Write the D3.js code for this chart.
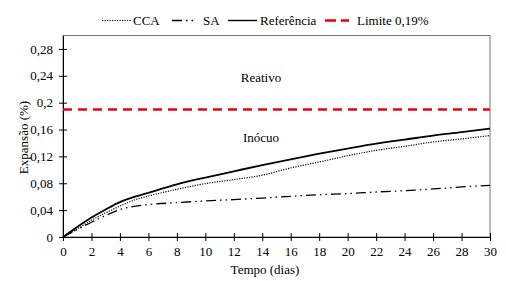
<!DOCTYPE html>
<html><head><meta charset="utf-8">
<script src="https://cdn.jsdelivr.net/npm/d3@7"></script>
<style>body{margin:0;background:#fff}svg{display:block}</style>
</head><body><svg id="c" width="506" height="281"></svg>
<script>
const days = [0,1,2,3,4,5,6,8,10,12,14,16,18,20,22,24,26,28,30];
const cca = [0,0.012,0.025,0.036,0.046,0.055,0.061,0.071,0.0795,0.0855,0.092,0.1028,0.1117,0.121,0.129,0.135,0.1415,0.146,0.151];
const sa  = [0,0.011,0.022,0.032,0.0408,0.0457,0.0483,0.0512,0.0536,0.0557,0.058,0.0606,0.063,0.0646,0.067,0.069,0.0715,0.0745,0.077];
const ref = [0,0.015,0.029,0.041,0.052,0.0598,0.0658,0.0785,0.0885,0.0978,0.107,0.1157,0.124,0.1317,0.139,0.145,0.151,0.156,0.1615];
const limite = 0.19;
const xTicks = d3.range(0,31,2);
const yTicks = [0,0.04,0.08,0.12,0.16,0.2,0.24,0.28];
const yTickLabels = ["0","0,04","0,08","0,12","0,16","0,2","0,24","0,28"];

const FONT = "Liberation Serif";
const svg = d3.select("#c");
const m = {l:63, r:490, t:36, b:237};
const x = d3.scaleLinear().domain([0,30]).range([m.l,m.r]);
const y = d3.scaleLinear().domain([0,0.3]).range([m.b,m.t-0.5]);

svg.append("rect").attr("x",m.l).attr("y",y(0.3)).attr("width",m.r-m.l).attr("height",m.b-y(0.3))
  .attr("fill","none").attr("stroke","#777").attr("stroke-width",1);

const xa = svg.append("g").attr("transform",`translate(0,${m.b})`)
  .call(d3.axisBottom(x).tickValues(xTicks).tickSizeInner(4).tickSizeOuter(0).tickPadding(6));
xa.selectAll(".tick line").attr("y1",-4);
const ya = svg.append("g").attr("transform",`translate(${m.l},0)`)
  .call(d3.axisLeft(y).tickValues(yTicks).tickFormat((d,i)=>yTickLabels[i]).tickSizeInner(4).tickSizeOuter(0).tickPadding(6));
ya.selectAll(".tick line").attr("x1",4);
[xa,ya].forEach(a=>{a.attr("font-family",FONT).attr("font-size",13);
  a.selectAll("text").attr("fill","#000");
  a.select(".domain").attr("stroke","#000"); a.selectAll(".tick line").attr("stroke","#000");});

const T = (tx,ty,s,anchor)=>svg.append("text").attr("x",tx).attr("y",ty).attr("text-anchor",anchor||"middle")
  .attr("font-family",FONT).attr("font-size",13).attr("fill","#000").text(s);
T(265,274,"Tempo (dias)");
svg.append("text").attr("transform",`translate(28,137.5) rotate(-90)`).attr("text-anchor","middle")
  .attr("font-family",FONT).attr("font-size",13).text("Expansão (%)");

svg.append("line").attr("x1",x(0)).attr("x2",x(30)).attr("y1",y(limite)).attr("y2",y(limite))
  .attr("stroke","#e8000b").attr("stroke-width",2.5).attr("stroke-dasharray","9,6");

T(261,82,"Reativo");
T(261,142,"Inócuo");

const line = vals => d3.line().x((d,i)=>x(days[i])).y(d=>y(d)).curve(d3.curveMonotoneX)(vals);
svg.append("path").attr("d",line(sa)).attr("fill","none").attr("stroke","#000").attr("stroke-width",1.3).attr("stroke-dasharray","10,4,1.5,4,1.5,4");
svg.append("path").attr("d",line(cca)).attr("fill","none").attr("stroke","#000").attr("stroke-width",1.2).attr("stroke-dasharray","1.2,1.3");
svg.append("path").attr("d",line(ref)).attr("fill","none").attr("stroke","#000").attr("stroke-width",1.8);

const leg = [
 {name:"CCA", x1:102,x2:132, tx:133, dash:"1.2,1.3", w:1.2, c:"#000"},
 {name:"SA", x1:172,x2:194, tx:203, dash:"10,4,1.5,4,1.5,4", w:1.4, c:"#000"},
 {name:"Referência", x1:228,x2:257, tx:260, dash:null, w:1.4, c:"#000"},
 {name:"Limite 0,19%", x1:325,x2:349, tx:357, dash:"11,5", w:2.5, c:"#e8000b"}
];
leg.forEach(d=>{
  svg.append("line").attr("x1",d.x1).attr("x2",d.x2).attr("y1",20.5).attr("y2",20.5).attr("stroke",d.c).attr("stroke-width",d.w).attr("stroke-dasharray",d.dash);
  T(d.tx,25,d.name,"start");
});
</script></body></html>
